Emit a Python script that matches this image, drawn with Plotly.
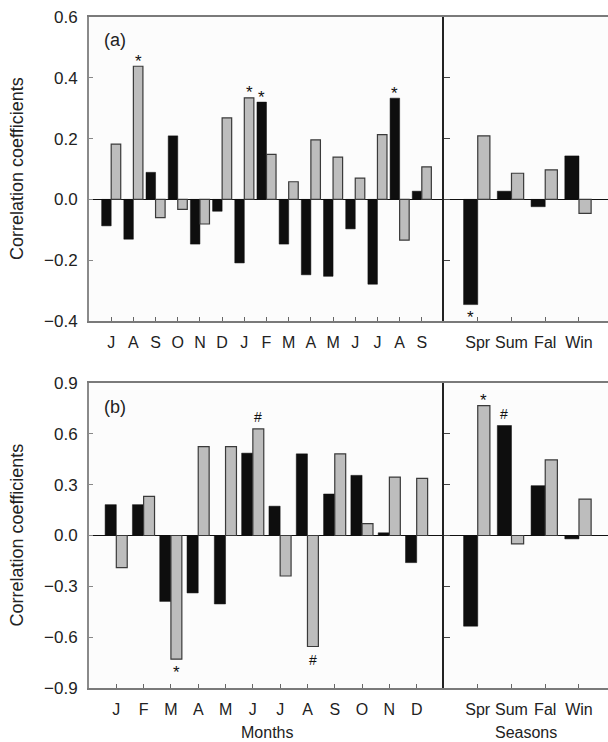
import plotly.graph_objects as go

# ---------------- data ----------------
months_a = ["J", "A", "S", "O", "N", "D", "J", "F", "M", "A", "M", "J", "J", "A", "S"]
a_black = [-0.087, -0.131, 0.089, 0.209, -0.147, -0.039, -0.209, 0.320, -0.147,
           -0.248, -0.253, -0.097, -0.279, 0.333, 0.027]
a_gray = [0.182, 0.438, -0.060, -0.033, -0.081, 0.268, 0.334, 0.148, 0.058,
          0.196, 0.139, 0.070, 0.213, -0.134, 0.107]
a_black_sig = ["", "", "", "", "", "", "", "*", "", "", "", "", "", "*", ""]
a_gray_sig = ["", "*", "", "", "", "", "*", "", "", "", "", "", "", "", ""]

seasons = ["Spr", "Sum", "Fal", "Win"]
sa_black = [-0.346, 0.027, -0.024, 0.143]
sa_gray = [0.209, 0.086, 0.097, -0.046]
sa_black_sig = ["*", "", "", ""]
sa_gray_sig = ["", "", "", ""]

months_b = ["J", "F", "M", "A", "M", "J", "J", "A", "S", "O", "N", "D"]
b_black = [0.182, 0.182, -0.389, -0.339, -0.404, 0.486, 0.173, 0.482, 0.245, 0.355, 0.016, -0.160]
b_gray = [-0.189, 0.231, -0.730, 0.525, 0.525, 0.629, -0.239, -0.655, 0.482, 0.070, 0.345, 0.337]
b_black_sig = ["", "", "", "", "", "", "", "", "", "", "", ""]
b_gray_sig = ["", "", "*", "", "", "#", "", "#", "", "", "", ""]

sb_black = [-0.535, 0.649, 0.294, -0.020]
sb_gray = [0.767, -0.049, 0.446, 0.215]
sb_black_sig = ["", "#", "", ""]
sb_gray_sig = ["*", "", "", ""]

a_yticks = [-0.4, -0.2, 0.0, 0.2, 0.4, 0.6]
a_yticktext = ["\u22120.4", "\u22120.2", "0.0", "0.2", "0.4", "0.6"]
b_yticks = [-0.9, -0.6, -0.3, 0.0, 0.3, 0.6, 0.9]
b_yticktext = ["\u22120.9", "\u22120.6", "\u22120.3", "0.0", "0.3", "0.6", "0.9"]

# ---------------- style ----------------
FONT = "Liberation Sans, Arial, Helvetica, sans-serif"
BLACK = "#0e0e0e"
GRAY = "#bdbdbd"
W, H = 608, 742
L = 89

fig = go.Figure()


def add_marks(xa, ya, xs, vals, sig, center_shift):
    for i, (v, s) in enumerate(zip(vals, sig)):
        if not s:
            continue
        if s == "*":
            size = 17
            shift = 5 if v >= 0 else -13
        else:
            size = 14
            shift = 12 if v >= 0 else -14
        fig.add_annotation(x=xs[i] + center_shift, y=v, xref=xa, yref=ya, text=s,
                           showarrow=False, xanchor="center", yanchor="middle",
                           yshift=shift, font=dict(family=FONT, size=size, color="#111"))


def add_pair(xa, ya, labels, black, gray, bsig, gsig, w_b, w_g):
    xs = list(range(len(labels)))
    fig.add_trace(go.Bar(
        x=xs, y=black, width=w_b, offset=-w_b, xaxis=xa, yaxis=ya,
        marker=dict(color=BLACK, line=dict(color=BLACK, width=0.5)),
        showlegend=False, hoverinfo="skip"))
    fig.add_trace(go.Bar(
        x=xs, y=gray, width=w_g, offset=0, xaxis=xa, yaxis=ya,
        marker=dict(color=GRAY, line=dict(color="#3a3a3a", width=1.2)),
        showlegend=False, hoverinfo="skip"))
    add_marks(xa, ya, xs, black, bsig, -w_b / 2)
    add_marks(xa, ya, xs, gray, gsig, w_g / 2)


add_pair("x", "y", months_a, a_black, a_gray, a_black_sig, a_gray_sig, 0.43, 0.43)
add_pair("x2", "y2", seasons, sa_black, sa_gray, sa_black_sig, sa_gray_sig, 0.42, 0.36)
add_pair("x3", "y3", months_b, b_black, b_gray, b_black_sig, b_gray_sig, 0.41, 0.40)
add_pair("x4", "y4", seasons, sb_black, sb_gray, sb_black_sig, sb_gray_sig, 0.42, 0.36)

pw = W - L
split = (444 - L) / pw
a_dom = [1 - 321 / H, 1 - 17 / H]
b_dom = [1 - 688 / H, 1 - 383 / H]

tickfont = dict(family=FONT, size=16, color="#222")
yfont = dict(family=FONT, size=17, color="#222")


def xaxis(labels, dom, anchor, rng):
    return dict(domain=dom, anchor=anchor, range=rng, automargin=False,
                tickmode="array", tickvals=list(range(len(labels))), ticktext=labels,
                ticks="inside", ticklen=4, tickcolor="#666", tickwidth=1,
                showline=True, linecolor="#7a7a7a", linewidth=2, mirror=True,
                showgrid=False, zeroline=False, tickfont=tickfont,
                ticklabelstandoff=6, fixedrange=True)


def yaxis_main(dom, anchor, rng, tv, tt):
    return dict(domain=dom, anchor=anchor, range=rng, automargin=False,
                tickmode="array", tickvals=tv, ticktext=tt,
                ticks="inside", ticklen=4, tickcolor="#888",
                showline=True, linecolor="#8a8a8a", linewidth=2,
                showgrid=False, zeroline=True, zerolinecolor="#111", zerolinewidth=1,
                tickfont=yfont, ticklabelstandoff=6, fixedrange=True)


def yaxis_side(dom, anchor, rng, tv):
    return dict(domain=dom, anchor=anchor, range=rng, automargin=False,
                tickmode="array", tickvals=tv, showticklabels=False,
                ticks="inside", ticklen=6, tickcolor="#444",
                showline=True, linecolor="#222222", linewidth=1.6,
                showgrid=False, zeroline=True, zerolinecolor="#111", zerolinewidth=1,
                fixedrange=True)


fig.update_layout(
    width=W, height=H,
    margin=dict(l=L, r=0, t=0, b=0, autoexpand=False),
    paper_bgcolor="white", plot_bgcolor="#fcfcfc",
    barmode="overlay", showlegend=False,
    xaxis=xaxis(months_a, [0, split], "y", [-1, 15]),
    xaxis2=xaxis(seasons, [split, 1], "y2", [-1, 3.86]),
    xaxis3=xaxis(months_b, [0, split], "y3", [-1, 12]),
    xaxis4=xaxis(seasons, [split, 1], "y4", [-1, 3.86]),
    yaxis=yaxis_main(a_dom, "x", [-0.4, 0.6], a_yticks, a_yticktext),
    yaxis2=yaxis_side(a_dom, "x2", [-0.4, 0.6], a_yticks),
    yaxis3=yaxis_main(b_dom, "x3", [-0.9, 0.9], b_yticks, b_yticktext),
    yaxis4=yaxis_side(b_dom, "x4", [-0.9, 0.9], b_yticks),
)

ann_font = dict(family=FONT, size=18, color="#222")
title_x = (17 - L) / pw
for dom in (a_dom, b_dom):
    fig.add_annotation(text="Correlation coefficients", textangle=-90, xref="paper", yref="paper",
                       x=title_x, y=sum(dom) / 2, xanchor="center", yanchor="middle",
                       showarrow=False, font=dict(family=FONT, size=18, color="#222"))
fig.add_annotation(text="(a)", xref="x domain", yref="y domain", x=0.037, y=0.924,
                   xanchor="left", yanchor="middle", showarrow=False, font=ann_font)
fig.add_annotation(text="(b)", xref="x3 domain", yref="y3 domain", x=0.037, y=0.921,
                   xanchor="left", yanchor="middle", showarrow=False, font=ann_font)
fig.add_annotation(text="Months", xref="x3 domain", yref="paper", x=0.5, y=1 - 732 / H,
                   xanchor="center", yanchor="middle", showarrow=False,
                   font=dict(family=FONT, size=16, color="#222"))
fig.add_annotation(text="Seasons", xref="x4 domain", yref="paper", x=0.5, y=1 - 732 / H,
                   xanchor="center", yanchor="middle", showarrow=False,
                   font=dict(family=FONT, size=16, color="#222"))

fig.write_html(
    "out.html",
    config={"displayModeBar": False, "staticPlot": True},
    post_script="document.body.style.margin='0';document.body.style.overflow='hidden';",
)
